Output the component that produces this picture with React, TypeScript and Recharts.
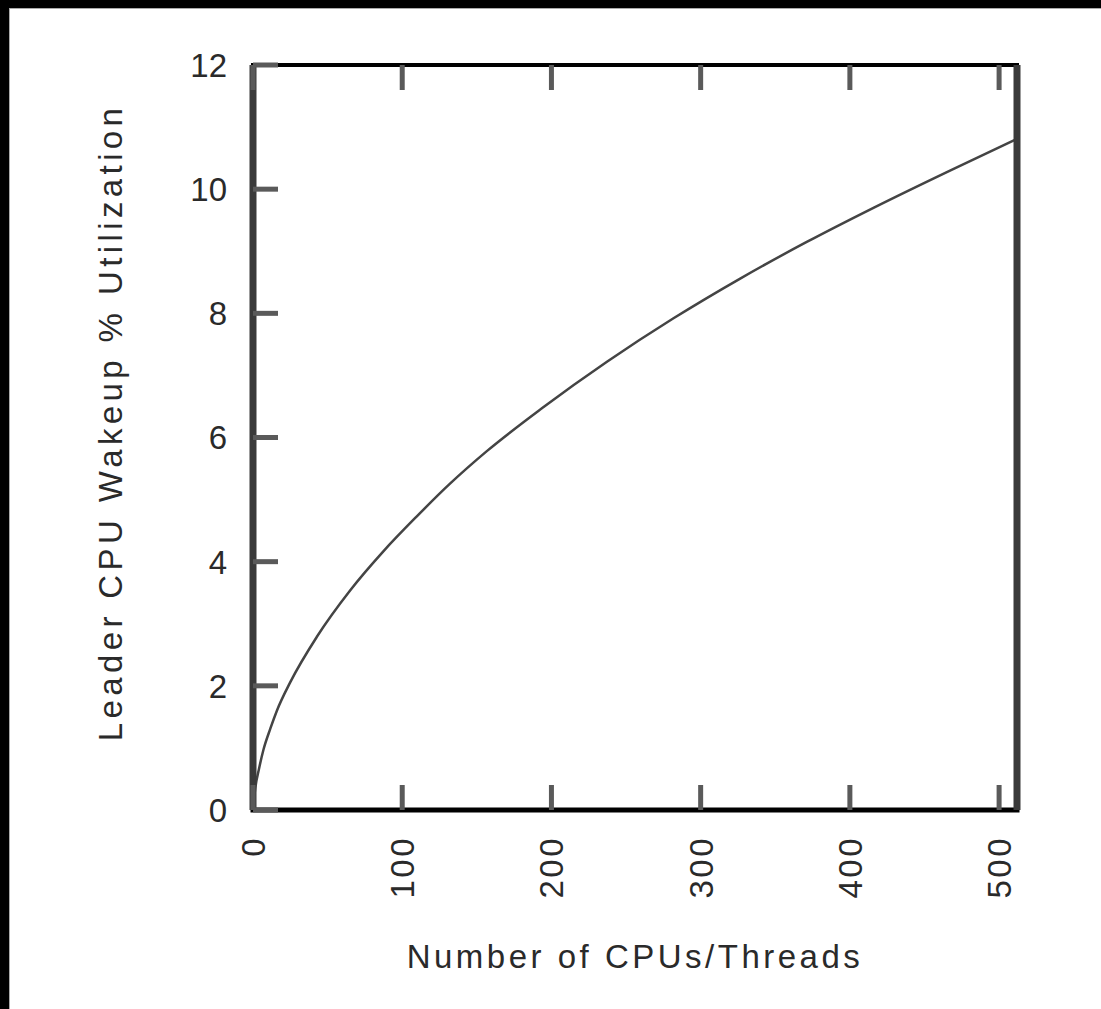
import { LineChart, Line, XAxis, YAxis } from "recharts"

const cpuCounts = [0, 1.5, 4, 7, 11.6, 16, 25, 42.8, 65.2, 87.5, 109.8, 132.2, 156.7, 193.6, 237.2, 281.8, 326.5, 371.1, 415.8, 467.1, 512]
const wakeupUtil = [0, 0.35, 0.66, 0.97, 1.31, 1.6, 2.06, 2.79, 3.54, 4.17, 4.73, 5.26, 5.78, 6.47, 7.22, 7.92, 8.56, 9.15, 9.7, 10.3, 10.81]

const xTicks = [0, 100, 200, 300, 400, 500]
const yTicks = [0, 2, 4, 6, 8, 10, 12]

const data = cpuCounts.map((c, i) => ({ cpus: c, util: wakeupUtil[i] }))

const FONT = "'Liberation Sans', Arial, Helvetica, sans-serif"
const TEXT = "#2a2a2a"
const TICK = "#5a5a5a"
const TICK_LEN = 25

function BottomTick(props: any) {
  const { x, y, payload } = props
  const ty = y + 26
  return (
    <g>
      <line x1={x} y1={y} x2={x} y2={y - TICK_LEN} stroke={TICK} strokeWidth={5} />
      <text
        x={x}
        y={ty}
        dy="0.36em"
        textAnchor="end"
        letterSpacing={2.5}
        transform={`rotate(-90 ${x} ${ty})`}
        fontFamily={FONT}
        fontSize={33}
        fill={TEXT}
      >
        {payload.value}
      </text>
    </g>
  )
}

function TopTick(props: any) {
  const { x, y } = props
  return <line x1={x} y1={y} x2={x} y2={y + TICK_LEN} stroke={TICK} strokeWidth={5} />
}

function LeftTick(props: any) {
  const { x, y, payload } = props
  return (
    <g>
      <line x1={x} y1={y} x2={x + TICK_LEN} y2={y} stroke={TICK} strokeWidth={5} />
      <text x={x - 26} y={y} dy="0.36em" textAnchor="end" fontFamily={FONT} fontSize={33} fill={TEXT}>
        {payload.value}
      </text>
    </g>
  )
}

function RightTick(props: any) {
  const { x, y } = props
  return <line x1={x} y1={y} x2={x - TICK_LEN} y2={y} stroke={TICK} strokeWidth={5} />
}

function XTitle(props: any) {
  const vb = props.viewBox
  return (
    <text
      x={vb.x + vb.width / 2}
      y={vb.y + 158}
      textAnchor="middle"
      fontFamily={FONT}
      fontSize={33}
      letterSpacing={3.5}
      fill={TEXT}
    >
      Number of CPUs/Threads
    </text>
  )
}

function YTitle(props: any) {
  const vb = props.viewBox
  const cx = vb.x - 130
  const cy = vb.y + vb.height / 2 - 15
  return (
    <text
      x={cx}
      y={cy}
      textAnchor="middle"
      transform={`rotate(-90 ${cx} ${cy})`}
      fontFamily={FONT}
      fontSize={33}
      letterSpacing={4.4}
      fill={TEXT}
    >
      Leader CPU Wakeup % Utilization
    </text>
  )
}

export default function App() {
  return (
    <div style={{ position: "fixed", left: 0, top: 0, width: 1101, height: 1009, background: "#000" }}>
      <div
        style={{
          position: "absolute",
          left: 9,
          top: 8,
          right: 0,
          bottom: 0,
          background: "#fff",
          borderTop: "1px solid #aaa",
          borderLeft: "1px solid #aaa",
        }}
      />
      <div style={{ position: "absolute", left: 0, top: 0 }}>
        <LineChart width={1101} height={1009} data={data} margin={{ top: 64, right: 83, bottom: 198, left: 252 }}>
          <XAxis
            dataKey="cpus"
            type="number"
            domain={[0, 512]}
            ticks={xTicks}
            interval={0}
            height={1}
            tickSize={0}
            tickMargin={0}
            tickLine={false}
            tick={<BottomTick />}
            axisLine={{ stroke: "#000", strokeWidth: 5, strokeLinecap: "square" }}
            label={{ content: <XTitle /> }}
          />
          <XAxis
            xAxisId="top"
            orientation="top"
            dataKey="cpus"
            type="number"
            domain={[0, 512]}
            ticks={xTicks}
            interval={0}
            height={1}
            tickSize={0}
            tickMargin={0}
            tickLine={false}
            tick={<TopTick />}
            axisLine={{ stroke: "#000", strokeWidth: 4, strokeLinecap: "square" }}
          />
          <YAxis
            type="number"
            domain={[0, 12]}
            ticks={yTicks}
            interval={0}
            width={1}
            tickSize={0}
            tickMargin={0}
            tickLine={false}
            tick={<LeftTick />}
            axisLine={{ stroke: "#3a3a3a", strokeWidth: 7 }}
            label={{ content: <YTitle /> }}
          />
          <YAxis
            yAxisId="right"
            orientation="right"
            type="number"
            domain={[0, 12]}
            ticks={yTicks}
            interval={0}
            width={1}
            tickSize={0}
            tickMargin={0}
            tickLine={false}
            tick={<RightTick />}
            axisLine={{ stroke: "#3a3a3a", strokeWidth: 7 }}
          />
          <Line
            type="monotone"
            dataKey="util"
            stroke="#444"
            strokeWidth={2.5}
            dot={false}
            isAnimationActive={false}
          />
        </LineChart>
      </div>
    </div>
  )
}
